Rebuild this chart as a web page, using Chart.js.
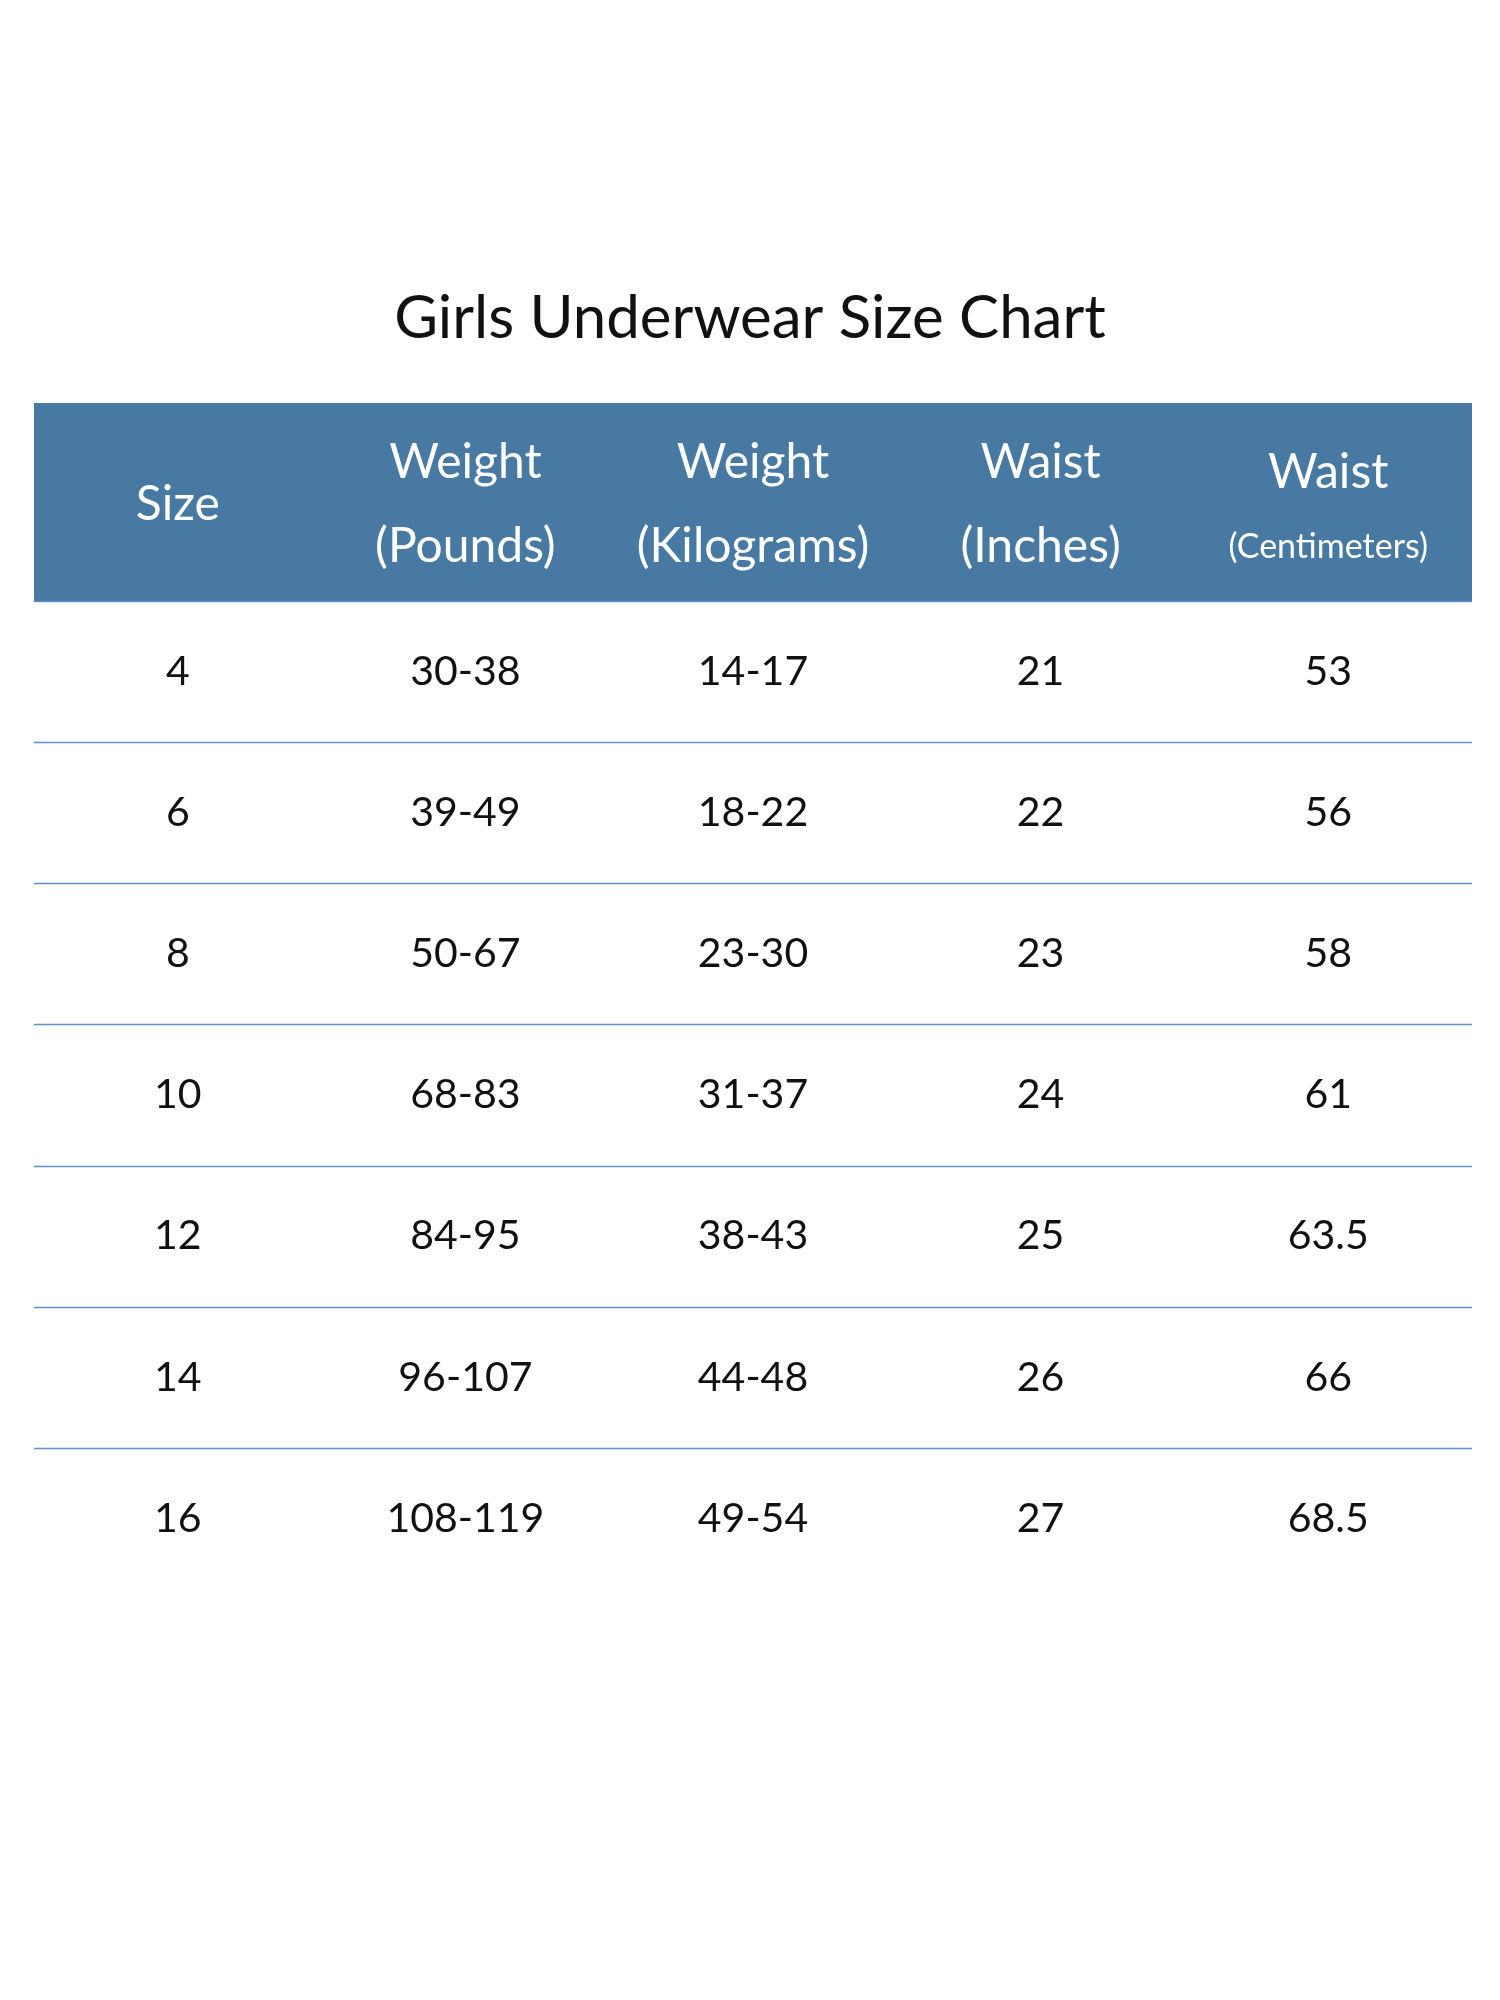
<!DOCTYPE html>
<html>
<head>
<meta charset="utf-8">
<script src="https://cdn.jsdelivr.net/npm/chart.js@4"></script>
<style>
  html, body { margin: 0; padding: 0; background: #fff; }
  #wrap { width: 1500px; height: 2000px; }
</style>
</head>
<body>
<div id="wrap"><canvas id="chart" width="1500" height="2000"></canvas></div>
<script>
const title = 'Girls Underwear Size Chart';
const headerTop = ['', 'Weight', 'Weight', 'Waist', 'Waist'];
const headerBottom = ['Size', '(Pounds)', '(Kilograms)', '(Inches)', '(Centimeters)'];
const sizes = ['4', '6', '8', '10', '12', '14', '16'];
const weightLb = ['30-38', '39-49', '50-67', '68-83', '84-95', '96-107', '108-119'];
const weightKg = ['14-17', '18-22', '23-30', '31-37', '38-43', '44-48', '49-54'];
const waistIn = ['21', '22', '23', '24', '25', '26', '27'];
const waistCm = ['53', '56', '58', '61', '63.5', '66', '68.5'];

const columns = [sizes, weightLb, weightKg, waistIn, waistCm];
const FONT = 'Lato, "Open Sans", sans-serif';

// one invisible point per cell, text is drawn at the point's scale position
const cells = [];
columns.forEach((col, c) => col.forEach((v, r) => cells.push({ x: c + 0.5, y: r + 0.5, label: v })));

const tablePlugin = {
  id: 'table',
  afterDraw(chart) {
    const ctx = chart.ctx;
    const area = chart.chartArea;
    const xs = chart.scales.x, ys = chart.scales.y;
    const headH = 198;
    ctx.save();
    // title
    ctx.fillStyle = '#111';
    ctx.font = '60px ' + FONT;
    ctx.textAlign = 'center';
    ctx.textBaseline = 'middle';
    ctx.fillText(title, 750, 319);
    // header band
    ctx.fillStyle = '#4879a2';
    ctx.fillRect(area.left, area.top - headH, area.right - area.left, headH);
    ctx.fillStyle = '#fff';
    headerBottom.forEach((t, c) => {
      const x = xs.getPixelForValue(c + 0.5);
      if (!headerTop[c]) {
        ctx.font = '48px ' + FONT;
        ctx.fillText(t, x, area.top - 96);
        return;
      }
      ctx.font = '48px ' + FONT;
      ctx.fillText(headerTop[c], x, area.top - (c === 4 ? 128 : 138));
      ctx.font = (c === 4 ? '34px ' : '48px ') + FONT;
      ctx.fillText(t, x, area.top - 54);
    });
    // row lines
    ctx.strokeStyle = '#5d90c6';
    ctx.lineWidth = 1.5;
    for (let r = 0; r <= sizes.length - 1; r++) {
      const y = Math.round(ys.getPixelForValue(r)) + 0.5;
      ctx.beginPath();
      ctx.moveTo(area.left, y);
      ctx.lineTo(area.right, y);
      ctx.stroke();
    }
    // cell text
    ctx.fillStyle = '#111';
    ctx.font = '41px ' + FONT;
    chart.data.datasets[0].data.forEach(p => {
      ctx.fillText(p.label, xs.getPixelForValue(p.x), ys.getPixelForValue(p.y));
    });
    ctx.restore();
  }
};

new Chart(document.getElementById('chart'), {
  type: 'scatter',
  data: { datasets: [{ data: cells, pointRadius: 0, pointHoverRadius: 0 }] },
  options: {
    responsive: false,
    animation: false,
    layout: { padding: { left: 34, right: 28, top: 601, bottom: 411 } },
    plugins: { legend: { display: false }, tooltip: { enabled: false } },
    scales: {
      x: { type: 'linear', min: 0, max: 5, display: false },
      y: { type: 'linear', min: 0, max: 7, reverse: true, display: false }
    }
  },
  plugins: [tablePlugin]
});
</script>
</body>
</html>
